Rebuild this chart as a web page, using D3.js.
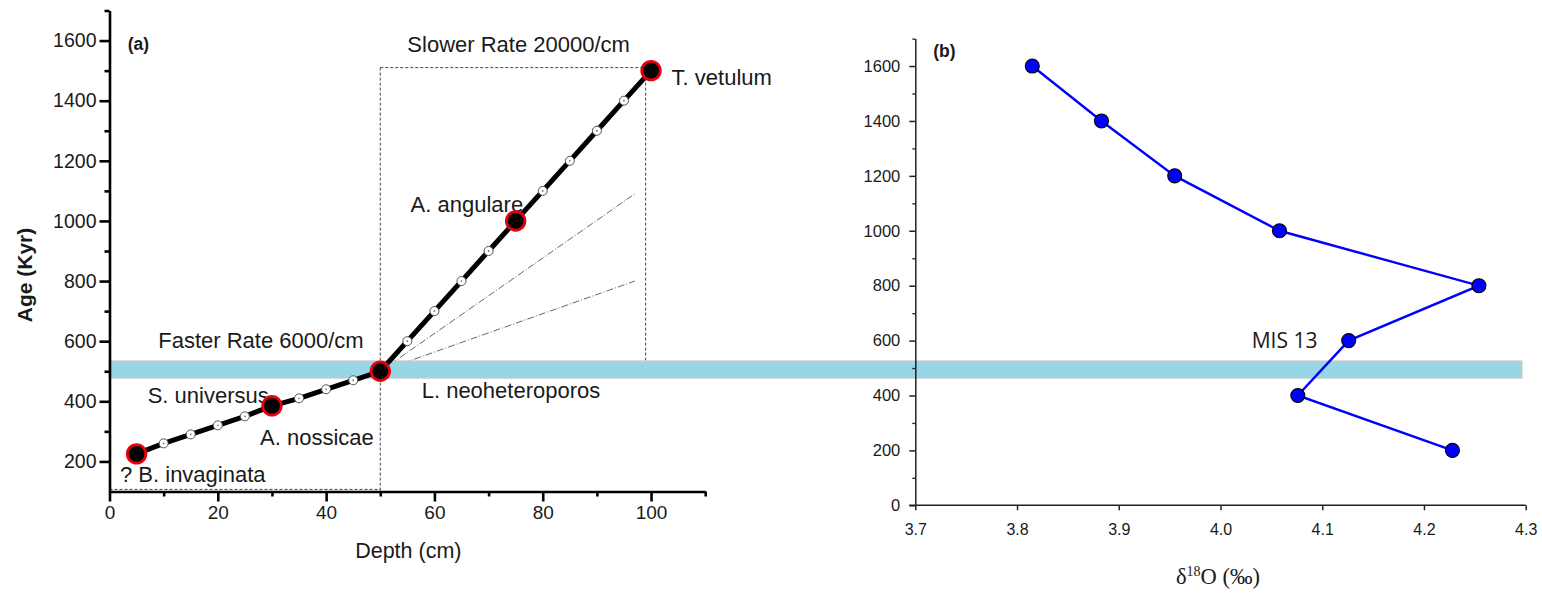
<!DOCTYPE html>
<html>
<head>
<meta charset="utf-8">
<script src="https://cdn.jsdelivr.net/npm/d3@7"></script>
<style>
  html, body { margin: 0; padding: 0; background: #fff; }
  svg { display: block; }
</style>
</head>
<body>
<svg id="fig" width="1542" height="593"></svg>
<script>
// ---- Panel (a): age–depth model ----
const depths = [5, 10, 15, 20, 25, 30, 35, 40, 45, 50, 55, 60, 65, 70, 75, 80, 85, 90, 95, 100];
const ages   = [225, 260, 290, 320, 350, 385, 410, 440, 470, 500, 600, 700, 800, 900, 1000, 1100, 1200, 1300, 1400, 1500];
// biostratigraphic datums (depth, age, name)
const datumDepths = [5, 30, 50, 75, 100];
const datumAges   = [225, 385, 500, 1000, 1500];
const datumNames  = ["? B. invaginata", "S. universus", "L. neoheteroporos", "A. angulare", "T. vetulum"];
// alternative-rate guide lines from the 500 kyr datum
const guideEndDepth = [97, 97];
const guideEndAge   = [1090, 800];
const depthTicks = [0, 20, 40, 60, 80, 100];
const depthMinor = [10, 30, 50, 70, 90, 110];
const ageTicksA  = [200, 400, 600, 800, 1000, 1200, 1400, 1600];
const ageMinorA  = [300, 500, 700, 900, 1100, 1300, 1500, 1700];

// ---- Panel (b): oxygen isotopes ----
const isoAges  = [1600, 1400, 1200, 1000, 800, 600, 400, 200];
const isoD18O  = [3.815, 3.883, 3.955, 4.058, 4.254, 4.126, 4.076, 4.228];
const d18Ticks = [3.7, 3.8, 3.9, 4.0, 4.1, 4.2, 4.3];
const ageTicksB = [0, 200, 400, 600, 800, 1000, 1200, 1400, 1600];
const ageMinorB = [100, 300, 500, 700, 900, 1100, 1300, 1500, 1700];

// MIS 13 interval (kyr) and where the band stops on the δ18O axis
const mis13 = [478, 533];
const bandEndD18O = 4.296;

const svg = d3.select("#fig");
const TXT = "#1a1a1a";

// scales
const xA = d3.scaleLinear().domain([0, 110]).range([109.5, 705.2]);
const yA = d3.scaleLinear().domain([100, 1700]).range([491.5, 10.5]);
const xB = d3.scaleLinear().domain([3.7, 4.3]).range([915.3, 1525.7]);
const yB = d3.scaleLinear().domain([0, 1700]).range([505.3, 38.6]);

// ---- dashed rate boxes ----
const dash = svg.append("g").attr("fill", "none").attr("stroke", "#444")
  .attr("stroke-width", 1).attr("stroke-dasharray", "3,2");
const boxTop = 1510, boxRight = 99, boxBottom = 107;
dash.append("line").attr("x1", xA(50)).attr("x2", xA(boxRight)).attr("y1", yA(boxTop)).attr("y2", yA(boxTop));
dash.append("line").attr("x1", xA(50)).attr("x2", xA(50)).attr("y1", yA(boxTop)).attr("y2", yA(100));
dash.append("line").attr("x1", xA(boxRight)).attr("x2", xA(boxRight)).attr("y1", yA(boxTop)).attr("y2", yA(mis13[1]));
dash.append("line").attr("x1", xA(0)).attr("x2", xA(50)).attr("y1", yA(boxBottom)).attr("y2", yA(boxBottom));

// dash-dot guide lines
svg.append("g").selectAll("line").data(guideEndDepth).join("line")
  .attr("x1", xA(50)).attr("y1", yA(500))
  .attr("x2", d => xA(d)).attr("y2", (d, i) => yA(guideEndAge[i]))
  .attr("stroke", "#666").attr("stroke-width", 1).attr("stroke-dasharray", "7,2,1,2");

// ---- MIS 13 band spanning both panels ----
svg.append("rect")
  .attr("x", xA(0)).attr("y", yA(mis13[1]))
  .attr("width", xB(bandEndD18O) - xA(0))
  .attr("height", yA(mis13[0]) - yA(mis13[1]))
  .attr("fill", "#97d6e6").attr("stroke", "#c8c8c8").attr("stroke-width", 1.8);

// ---- axes of panel (a) ----
function styleAxis(g, w, color, fs) {
  g.select(".domain").attr("stroke", color).attr("stroke-width", w);
  g.selectAll(".tick line").attr("stroke", color).attr("stroke-width", w);
  g.selectAll(".tick text").attr("fill", TXT).style("font-family", "Liberation Sans, Arial, sans-serif").style("font-size", fs + "px");
}
const axA_x = svg.append("g").attr("transform", `translate(0,${yA(100)})`)
  .call(d3.axisBottom(xA).tickValues(depthTicks).tickSize(10).tickSizeOuter(0).tickPadding(4).tickFormat(d3.format("d")));
styleAxis(axA_x, 2.6, "#000", 19);
const axA_xm = svg.append("g").attr("transform", `translate(0,${yA(100)})`)
  .call(d3.axisBottom(xA).tickValues(depthMinor).tickSize(5).tickSizeOuter(0).tickFormat(""));
styleAxis(axA_xm, 2.6, "#000", 19);
axA_xm.select(".domain").remove();

const axA_y = svg.append("g").attr("transform", `translate(${xA(0)},0)`)
  .call(d3.axisLeft(yA).tickValues(ageTicksA).tickSize(10).tickSizeOuter(0).tickPadding(3).tickFormat(d3.format("d")));
styleAxis(axA_y, 2.6, "#000", 19.5);
const axA_ym = svg.append("g").attr("transform", `translate(${xA(0)},0)`)
  .call(d3.axisLeft(yA).tickValues(ageMinorA).tickSize(5).tickSizeOuter(0).tickFormat(""));
styleAxis(axA_ym, 2.6, "#000", 19);
axA_ym.select(".domain").remove();

// axis titles (a)
svg.append("text").attr("transform", `translate(32,${(yA(100) + yA(1700)) / 2 + 24}) rotate(-90)`)
  .attr("text-anchor", "middle").attr("fill", TXT)
  .style("font-family", "Liberation Sans, Arial, sans-serif").style("font-size", "21px").style("font-weight", "bold")
  .text("Age (Kyr)");
svg.append("text").attr("x", (xA(0) + xA(110)) / 2 + 1).attr("y", 558).attr("text-anchor", "middle").attr("fill", TXT)
  .style("font-family", "Liberation Sans, Arial, sans-serif").style("font-size", "21.5px")
  .text("Depth (cm)");

// annotations (a)
const annot = svg.append("g").attr("fill", TXT)
  .style("font-family", "Liberation Sans, Arial, sans-serif").style("font-size", "22px");
annot.append("text").attr("x", xA(3.36)).attr("y", yA(1570)).style("font-weight", "bold").style("font-size", "17.5px").text("(a)");
annot.append("text").attr("x", xA(55.0)).attr("y", yA(1563)).text("Slower Rate 20000/cm");
annot.append("text").attr("x", xA(9.0)).attr("y", yA(578)).text("Faster Rate 6000/cm");
// datum names, each placed beside its marker
const nameOffsets = [[1.94, 131], [7.05, 395], [57.65, 410], [55.6, 1029], [103.8, 1452]];
annot.selectAll("text.datum").data(datumNames).join("text").attr("class", "datum")
  .attr("x", (d, i) => xA(nameOffsets[i][0])).attr("y", (d, i) => yA(nameOffsets[i][1])).text(d => d);
annot.append("text").attr("x", xA(27.8)).attr("y", yA(255)).text("A. nossicae");

// age-depth line
const pts = depths.map((d, i) => [d, ages[i]]);
svg.append("path").datum(pts)
  .attr("fill", "none").attr("stroke", "#000").attr("stroke-width", 5).attr("stroke-linejoin", "round")
  .attr("d", d3.line().x(d => xA(d[0])).y(d => yA(d[1])));

// sample markers (non-datum depths)
const samples = pts.filter(p => !datumDepths.includes(p[0]));
const sm = svg.append("g");
sm.selectAll("circle.s").data(samples).join("circle").attr("class", "s")
  .attr("cx", d => xA(d[0])).attr("cy", d => yA(d[1])).attr("r", 4.5)
  .attr("fill", "#fff").attr("stroke", "#555").attr("stroke-width", 1);
sm.selectAll("circle.c").data(samples).join("circle").attr("class", "c")
  .attr("cx", d => xA(d[0])).attr("cy", d => yA(d[1])).attr("r", 0.9).attr("fill", "#777");

// datum markers
svg.append("g").selectAll("circle").data(datumDepths).join("circle")
  .attr("cx", d => xA(d)).attr("cy", (d, i) => yA(datumAges[i])).attr("r", 9.3)
  .attr("fill", "#000").attr("stroke", "#e8000b").attr("stroke-width", 2.8);

// ---- panel (b) ----
const axB_x = svg.append("g").attr("transform", `translate(0,${yB(0)})`)
  .call(d3.axisBottom(xB).tickValues(d18Ticks).tickSize(5).tickSizeOuter(0).tickPadding(13).tickFormat(d3.format(".1f")));
styleAxis(axB_x, 1.5, "#222", 16);
axB_x.select(".domain").attr("d", `M${xB(3.7) - 6},0H${xB(4.3)}`);
const axB_y = svg.append("g").attr("transform", `translate(${xB(3.7)},0)`)
  .call(d3.axisLeft(yB).tickValues(ageTicksB).tickSize(6).tickSizeOuter(0).tickPadding(9).tickFormat(d3.format("d")));
styleAxis(axB_y, 1.5, "#222", 16.5);
const axB_ym = svg.append("g").attr("transform", `translate(${xB(3.7)},0)`)
  .call(d3.axisLeft(yB).tickValues(ageMinorB).tickSize(3).tickSizeOuter(0).tickFormat(""));
styleAxis(axB_ym, 1.3, "#222", 16);
axB_ym.select(".domain").remove();

svg.append("text").attr("x", xB(3.7177)).attr("y", yB(1634)).attr("fill", TXT)
  .style("font-family", "Liberation Sans, Arial, sans-serif").style("font-size", "17.5px").style("font-weight", "bold")
  .text("(b)");
svg.append("text").attr("x", xB(4.0307)).attr("y", yB(572)).attr("fill", TXT)
  .style("font-family", "Open Sans, sans-serif").style("font-size", "21px")
  .text("MIS 13");

const xl = svg.append("text").attr("x", 1176).attr("y", 584).attr("fill", TXT)
  .style("font-family", "Liberation Serif, Times New Roman, serif").style("font-size", "22.5px");
xl.append("tspan").text("δ");
xl.append("tspan").attr("dy", -8).style("font-size", "14px").text("18");
xl.append("tspan").attr("dy", 8).text("O (‰)");

const isoPts = isoAges.map((a, i) => [isoD18O[i], a]);
svg.append("path").datum(isoPts)
  .attr("fill", "none").attr("stroke", "#0000ff").attr("stroke-width", 2.4)
  .attr("d", d3.line().x(d => xB(d[0])).y(d => yB(d[1])));
svg.append("g").selectAll("circle").data(isoPts).join("circle")
  .attr("cx", d => xB(d[0])).attr("cy", d => yB(d[1])).attr("r", 7)
  .attr("fill", "#0000ff").attr("stroke", "#000").attr("stroke-width", 1.1);
</script>
</body>
</html>
